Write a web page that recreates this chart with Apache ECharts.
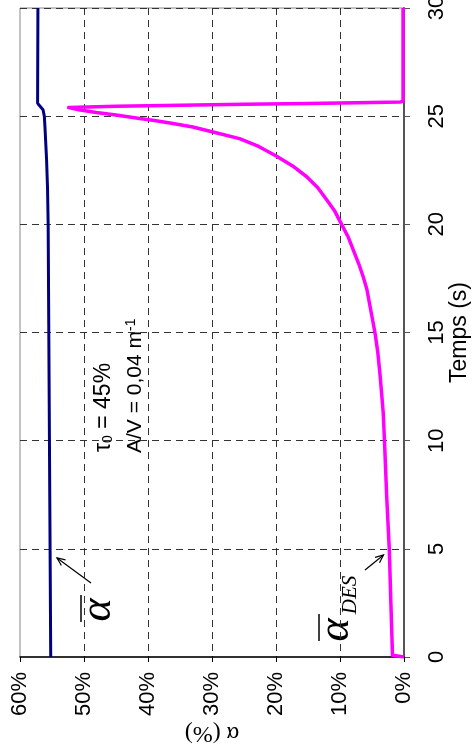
<!DOCTYPE html>
<html><head><meta charset="utf-8">
<script src="https://cdn.jsdelivr.net/npm/echarts@6/dist/echarts.min.js"></script>
<style>html,body{margin:0;padding:0;background:#fff}#c{width:475px;height:755px}</style>
</head><body><div id="c"></div>
<script>
// ---- data ----
const alphaTicks = [0, 10, 20, 30, 40, 50, 60];   // α (%)
const timeTicks = [0, 5, 10, 15, 20, 25, 30];     // Temps (s)
// mean α (navy)
const meanTime  = [0, 5, 10, 15, 20, 21.7, 23, 24.5, 25.0, 25.3, 25.5, 25.6, 30];
const meanAlpha = [55.2, 55.3, 55.4, 55.5, 55.6, 55.7, 55.85, 56.1, 56.2, 56.4, 57.0, 57.25, 57.2];
// α DES (magenta)
const desTime  = [0, 0.08, 2.5, 5, 7.4, 10, 11.3, 12.2, 13.1, 14.1, 15, 16.2, 17.0, 17.6, 18.2, 18.8, 19.4, 20, 20.6, 21.1, 21.7, 22.2, 22.7, 23.15, 23.6, 23.96, 24.28, 24.5, 24.66, 24.8, 24.89, 25.05, 25.17, 25.3, 25.40, 25.46, 25.51, 25.55, 25.59, 25.63, 25.66, 25.7, 30];
const desAlpha = [0, 1.8, 2.05, 2.3, 2.7, 3.05, 3.25, 3.5, 3.76, 4.1, 4.54, 5.3, 5.8, 6.4, 7.1, 7.9, 8.7, 9.75, 10.8, 12, 13.5, 15.2, 17.4, 19.9, 22.7, 25.7, 30, 33, 36.1, 39, 41.3, 45, 48.1, 50.8, 52.4, 45, 35, 25, 15, 5, 0.5, 0.15, 0.15];

const pairs = (a, t) => a.map((v, i) => [v, t[i]]);

function arrow(x1, y1, x2, y2) {
  const dx = x2 - x1, dy = y2 - y1, L = Math.hypot(dx, dy);
  const ux = dx / L, uy = dy / L, px = -uy, py = ux;
  const bx = x2 - 8 * ux, by = y2 - 8 * uy;
  return [
    {type: 'line', shape: {x1, y1, x2, y2}, style: {stroke: '#000', lineWidth: 1.2}},
    {type: 'polyline', shape: {points: [[bx + 3.5 * px, by + 3.5 * py], [x2, y2], [bx - 3.5 * px, by - 3.5 * py]]}, style: {stroke: '#000', lineWidth: 1.2, fill: null}}
  ];
}

const chart = echarts.init(document.getElementById('c'), null, {renderer: 'canvas'});
const sans = "'Liberation Sans', Arial, sans-serif";
const serif = "'Liberation Serif', 'Times New Roman', serif";
chart.setOption({
  animation: false,
  backgroundColor: '#fff',
  grid: {left: 20, right: 71, top: 8, bottom: 98, show: true, borderColor: '#888', borderWidth: 1,
         containLabel: false, outerBoundsMode: 'none'},
  xAxis: {
    type: 'value', min: alphaTicks[0], max: alphaTicks[alphaTicks.length - 1], interval: 10,
    inverse: true, position: 'bottom',
    name: 'α (%)', nameLocation: 'middle', nameGap: 64, nameRotate: 180, nameMoveOverlap: false,
    nameTextStyle: {fontFamily: serif, fontSize: 24, color: '#000'},
    axisLine: {show: true, onZero: false, lineStyle: {color: '#000', width: 1.5}},
    axisTick: {show: true, length: 5, lineStyle: {color: '#000'}},
    axisLabel: {rotate: 90, margin: 15, formatter: '{value}%', fontFamily: sans, fontSize: 22, color: '#000'},
    splitLine: {show: true, showMinLine: false, showMaxLine: false, lineStyle: {color: '#333', type: [7, 5], width: 1}}
  },
  yAxis: {
    type: 'value', min: timeTicks[0], max: timeTicks[timeTicks.length - 1], interval: 5,
    position: 'right',
    name: 'Temps (s)', nameLocation: 'middle', nameGap: 44, nameRotate: 90, nameMoveOverlap: false,
    nameTextStyle: {fontFamily: sans, fontSize: 23, color: '#000'},
    axisLine: {show: true, onZero: false, lineStyle: {color: '#555', width: 2}},
    axisTick: {show: true, length: 6, lineStyle: {color: '#555'}},
    axisLabel: {rotate: 90, margin: 22, fontFamily: sans, fontSize: 22, color: '#000', alignMaxLabel: 'center', alignMinLabel: 'center'},
    splitLine: {show: true, showMinLine: false, showMaxLine: true, lineStyle: {color: '#333', type: [7, 5], width: 1}}
  },
  series: [
    {type: 'line', data: pairs(meanAlpha, meanTime), showSymbol: false, lineStyle: {color: '#000080', width: 3}, z: 3},
    {type: 'line', data: pairs(desAlpha, desTime), showSymbol: false, smooth: false, lineStyle: {color: '#ff00ff', width: 3.5, join: 'round'}, z: 3}
  ],
  graphic: [
    {type: 'text', x: 104, y: 452, rotation: Math.PI / 2,
     style: {text: '{a|τ}{s|0}{a| = 45%}', align: 'left', verticalAlign: 'middle',
             rich: {a: {fontFamily: sans, fontSize: 23, fill: '#000'}, s: {fontFamily: sans, fontSize: 14, fill: '#000', verticalAlign: 'bottom'}}}},
    {type: 'text', x: 135, y: 453, rotation: Math.PI / 2,
     style: {text: '{a|A/V = 0,04 m}{s|-1}', align: 'left', verticalAlign: 'middle',
             rich: {a: {fontFamily: sans, fontSize: 21, fill: '#000'}, s: {fontFamily: sans, fontSize: 14, fill: '#000', verticalAlign: 'top'}}}},
    {type: 'text', x: 98, y: 610, rotation: Math.PI / 2,
     style: {text: 'α', font: 'italic 44px ' + serif, fill: '#000', align: 'center', verticalAlign: 'middle'}},
    {type: 'line', shape: {x1: 81, y1: 595, x2: 81, y2: 622}, style: {stroke: '#000', lineWidth: 1.5}},
    {type: 'text', x: 336, y: 630, rotation: Math.PI / 2,
     style: {text: 'α', font: 'italic 44px ' + serif, fill: '#000', align: 'center', verticalAlign: 'middle'}},
    {type: 'text', x: 350, y: 595, rotation: Math.PI / 2,
     style: {text: 'DES', font: 'italic 21px ' + serif, fill: '#000', align: 'center', verticalAlign: 'middle'}},
    {type: 'line', shape: {x1: 319, y1: 614, x2: 319, y2: 641}, style: {stroke: '#000', lineWidth: 1.5}},
    ...arrow(91, 583, 57, 558),
    ...arrow(365, 570, 383.5, 555)
  ]
});
</script>
</body></html>
